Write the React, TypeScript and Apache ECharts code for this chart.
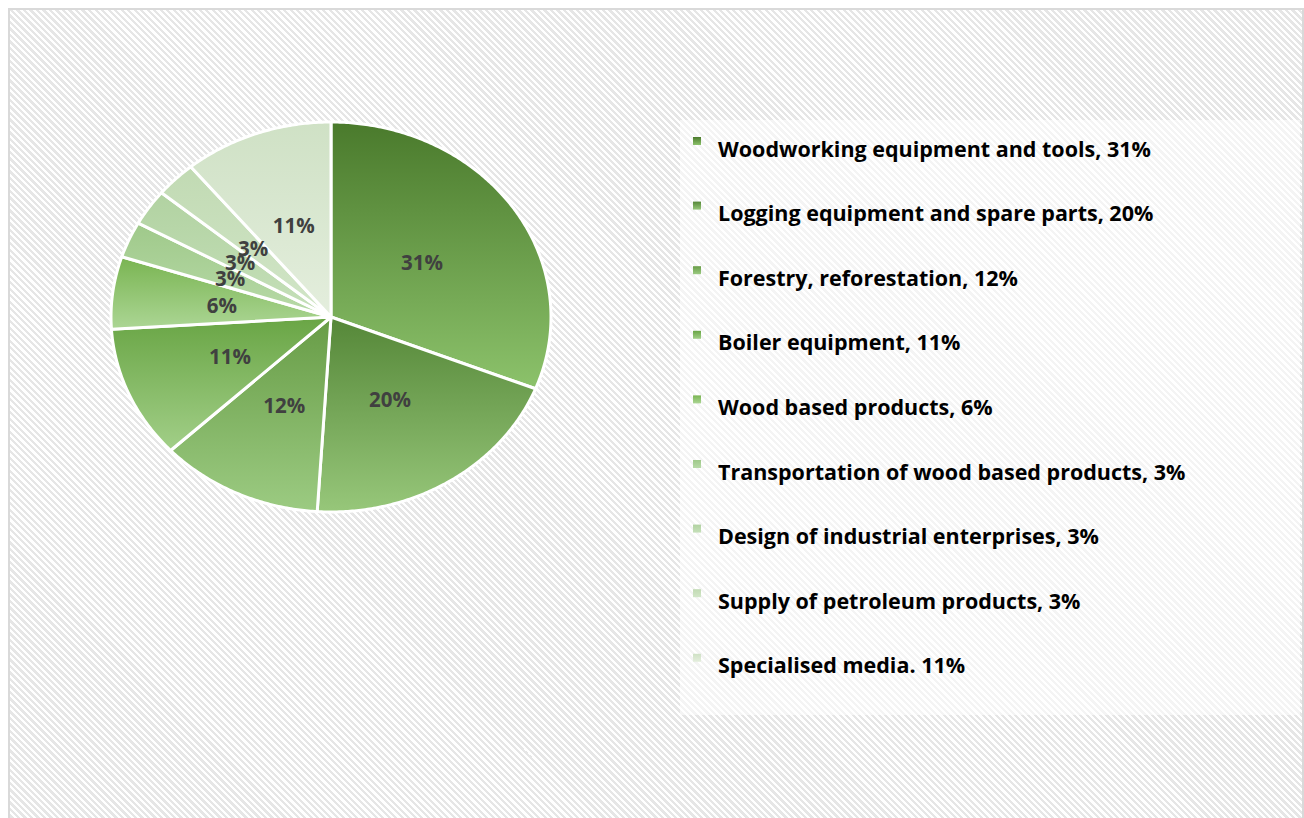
import React, { useEffect, useRef } from "react";
import * as echarts from "echarts";

const categories = [
  "Woodworking equipment and tools",
  "Logging equipment and spare parts",
  "Forestry, reforestation",
  "Boiler equipment",
  "Wood based products",
  "Transportation of wood based products",
  "Design of industrial enterprises",
  "Supply of petroleum products",
  "Specialised media",
];
const values = [31, 20, 12, 11, 6, 3, 3, 3, 11];
const legendLabels = [
  "Woodworking equipment and tools, 31%",
  "Logging equipment and spare parts, 20%",
  "Forestry, reforestation, 12%",
  "Boiler equipment, 11%",
  "Wood based products, 6%",
  "Transportation of wood based products, 3%",
  "Design of industrial enterprises, 3%",
  "Supply of petroleum products, 3%",
  "Specialised media. 11%",
];
const topColors = ["#4a7a2c", "#558738", "#679c46", "#69a545", "#79b451", "#9fc98a", "#b1d2a1", "#c1dab3", "#cfe1c5"];
const bottomColors = ["#8cc26b", "#97c77a", "#9ccb82", "#a2cf88", "#acd695", "#b8daa8", "#c6e0ba", "#d2e6c8", "#e4eedd"];

const CX = 331;
const CY = 317;
const RX = 220;
const RY = 195;

export default function App() {
  const ref = useRef<HTMLDivElement>(null);
  useEffect(() => {
    document.body.style.margin = "0";
    if (!ref.current) return;
    const chart = echarts.init(ref.current, null, { renderer: "svg" });
    const total = values.reduce((a, b) => a + b, 0);
    const cum: number[] = [];
    let acc = 0;
    values.forEach((v) => {
      cum.push(acc);
      acc += v;
    });
    const grad = (i: number) =>
      new echarts.graphic.LinearGradient(0, 0, 0, 1, [
        { offset: 0, color: topColors[i] },
        { offset: 1, color: bottomColors[i] },
      ]);

    const legendGraphics: any[] = [];
    legendGraphics.push({
      type: "rect",
      shape: { x: 680, y: 120, width: 620, height: 595 },
      style: { fill: "rgba(255,255,255,0.55)" },
      z: -1,
    });
    legendLabels.forEach((lab, i) => {
      const y = 148 + i * 64.6;
      legendGraphics.push({
        type: "rect",
        shape: { x: 693, y: y - 11, width: 8, height: 8 },
        style: { fill: grad(i) },
      });
      legendGraphics.push({
        type: "text",
        x: 718,
        y: y,
        style: {
          text: lab,
          fill: "#000000",
          font: "bold 21.5px 'Open Sans'",
          verticalAlign: "middle",
        },
      });
    });

    chart.setOption({
      animation: false,
      graphic: legendGraphics,
      series: [
        {
          type: "custom",
          coordinateSystem: "none",
          data: values.map((v, i) => ({ value: v, name: categories[i] })),
          renderItem: (params: any, api: any) => {
            const i = params.dataIndex;
            const v = api.value(0);
            const a0 = (cum[i] / total) * Math.PI * 2;
            const a1 = ((cum[i] + v) / total) * Math.PI * 2;
            const pts: number[][] = [[CX, CY]];
            const steps = Math.max(8, Math.ceil((a1 - a0) / 0.01));
            for (let k = 0; k <= steps; k++) {
              const a = a0 + ((a1 - a0) * k) / steps;
              pts.push([CX + RX * Math.sin(a), CY - RY * Math.cos(a)]);
            }
            const am = (a0 + a1) / 2;
            const lx = CX + 0.5 * RX * Math.sin(am);
            const ly = CY - 0.5 * RY * Math.cos(am);
            return {
              type: "group",
              children: [
                {
                  type: "polygon",
                  shape: { points: pts },
                  style: { fill: grad(i), stroke: "#ffffff", lineWidth: 3, lineJoin: "round" },
                },
                {
                  type: "text",
                  x: lx,
                  y: ly,
                  z2: 10,
                  style: {
                    text: Math.round((v / total) * 100) + "%",
                    fill: "#404040",
                    font: "bold 20.5px 'Open Sans'",
                    align: "center",
                    verticalAlign: "middle",
                  },
                },
              ],
            };
          },
        },
      ],
    });
    return () => chart.dispose();
  }, []);

  return (
    <div style={{ position: "relative", width: 1304, height: 818, overflow: "hidden", background: "#ffffff" }}>
      <div
        style={{
          position: "absolute",
          left: 8,
          top: 8,
          width: 1292,
          height: 830,
          border: "2px solid #d9d9d9",
          background:
            "repeating-linear-gradient(45deg, #ffffff 0px, #ffffff 2.3px, #e6e6e6 2.3px, #e6e6e6 4.6px)",
        }}
      />
      <div ref={ref} style={{ position: "absolute", left: 0, top: 0, width: 1304, height: 818 }} />
    </div>
  );
}
